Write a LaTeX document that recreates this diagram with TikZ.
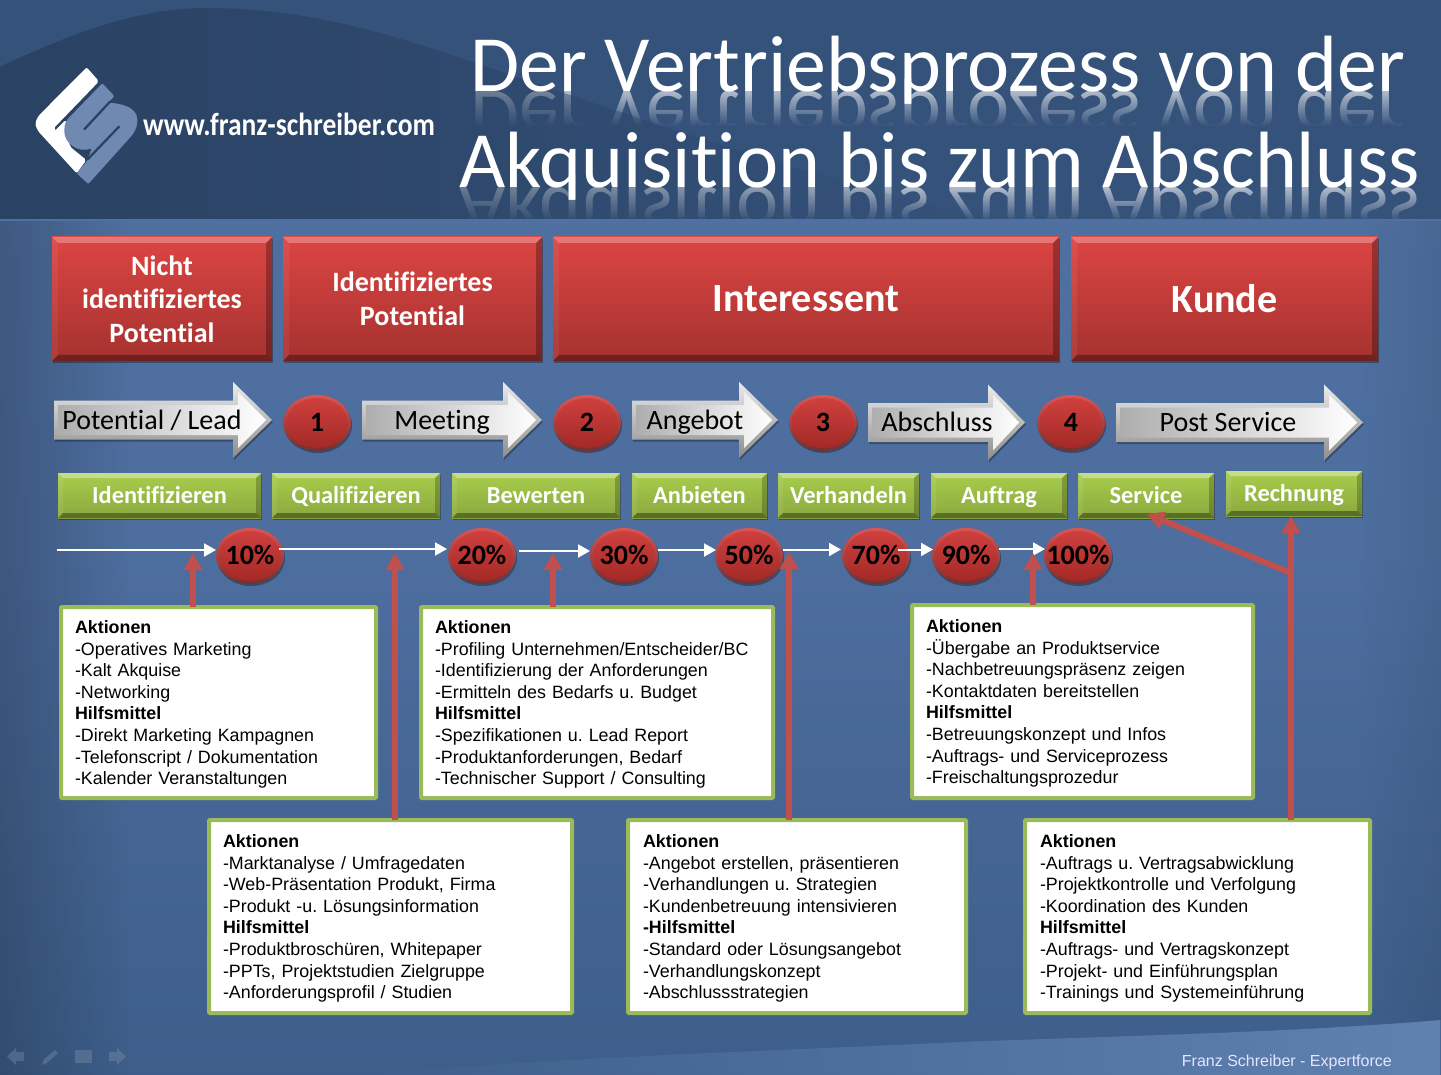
\documentclass[tikz,border=0pt]{standalone}
\usepackage{fontspec}
\setmainfont{Liberation Sans}
\newfontfamily\calib[Ligatures=CommonOff]{Carlito}
\usetikzlibrary{arrows.meta,shapes.geometric,fadings,shadows}
\definecolor{hdrbg}{HTML}{35527B}
\definecolor{hdrdark}{HTML}{2A4263}
\definecolor{brick}{HTML}{C0504D}
\definecolor{olive}{HTML}{9BBB59}
\definecolor{logoblue}{HTML}{7089B1}
\definecolor{lightband}{HTML}{5F82B1}
\definecolor{redtop}{HTML}{DC4543}
\definecolor{redbot}{HTML}{A5322F}
\definecolor{greentop}{HTML}{A8CD4C}
\definecolor{greenbot}{HTML}{8AA83E}
\pgfdeclareverticalshading{pageshade}{100bp}{
  rgb(0bp)=(0.20,0.31,0.46);
  rgb(10bp)=(0.19,0.30,0.44);
  rgb(25bp)=(0.24,0.37,0.54);
  rgb(55bp)=(0.30,0.43,0.62);
  rgb(80bp)=(0.31,0.44,0.63);
  rgb(100bp)=(0.28,0.41,0.59)}
\tikzset{
  x=1pt,y=-1pt,
  bevelled/.style n args={5}{
    path picture={
      \coordinate (pnw) at (path picture bounding box.north west);
      \coordinate (pne) at (path picture bounding box.north east);
      \coordinate (psw) at (path picture bounding box.south west);
      \coordinate (pse) at (path picture bounding box.south east);
      \coordinate (inw) at ([shift={(#1pt,-#1pt)}]pnw);
      \coordinate (ine) at ([shift={(-#1pt,-#1pt)}]pne);
      \coordinate (isw) at ([shift={(#1pt,#1pt)}]psw);
      \coordinate (ise) at ([shift={(-#1pt,#1pt)}]pse);
      \fill[white,opacity=#2] (pnw)--(pne)--(ine)--(inw)--cycle;
      \fill[white,opacity=#3] (pnw)--(psw)--(isw)--(inw)--cycle;
      \fill[black,opacity=#4] (pne)--(pse)--(ise)--(ine)--cycle;
      \fill[black,opacity=#5] (psw)--(pse)--(ise)--(isw)--cycle;
    }},
  softshadow/.style={drop shadow={shadow xshift=1pt,shadow yshift=-2pt,opacity=.3,fill=black}},
  redbox/.style={rectangle,anchor=north west,inner sep=0pt,outer sep=0pt,align=center,text=white,
    top color=redtop,bottom color=redbot,
    softshadow,
    bevelled={6}{.28}{.06}{.28}{.32},
    font=\calib\bfseries},
  greenbox/.style={rectangle,anchor=north west,inner sep=0pt,outer sep=0pt,align=center,text=white,
    minimum height=45pt,top color=greentop,bottom color=greenbot,
    softshadow,text height=18pt,text depth=3pt,
    bevelled={5}{.35}{.08}{.22}{.35},
    font=\calib\bfseries\fontsize{24.4}{25}\selectfont},
  ball/.style={ellipse,inner sep=0pt,outer sep=0pt,minimum width=68pt,minimum height=56pt,
    top color=brick!70!red!85!white,bottom color=brick!60!black,
    softshadow,
    path picture={
      \shade[top color=redtop!95!black,bottom color=redbot!105!white]
        (path picture bounding box.center) ellipse (31 and 25);
    },
    text=black,font=\calib\bfseries\fontsize{28}{30}\selectfont},
  stepball/.style={ball,font=\calib\bfseries\fontsize{28}{29}\selectfont},
  textpanel/.style={rectangle,anchor=north west,fill=white,draw=olive,line width=4pt,rounded corners=1pt,
    inner sep=0pt,outer sep=0pt,inner xsep=14pt,align=left,text=black,
    font=\fontsize{17.85}{21.6}\selectfont\frenchspacing},
  flow/.style={draw=white,line width=2pt,-{Triangle[length=12pt,width=13pt]}},
  feed/.style={draw=brick,line width=6pt,-{Triangle[length=17pt,width=18pt]}},
}
\newcommand\gloss[7]{%
  \path[top color=white!92!black,bottom color=black!45!white,drop shadow={shadow xshift=1pt,shadow yshift=-2pt,opacity=.3,fill=black}]
    (#2,#5-19.5)--(#3,#5-19.5)--(#3,#5-38)--(#4,#5)--(#3,#5+38)--(#3,#5+19.5)--(#2,#5+19.5)--cycle;
  \path[left color=black!32!white,middle color=white,right color=white]
    (#2+4,#5-15)--(#3+5,#5-15)--(#3+5,#5-28)--(#4-6,#5)--(#3+5,#5+28)--(#3+5,#5+15)--(#2+4,#5+15)--cycle;
  \node[anchor=base,inner sep=0pt,text=black,font=\calib\fontsize{28}{29}\selectfont] (#1) at (#7,#5+9) {#6};
}
\newcommand\tA{\rule{0pt}{17pt}\textbf{Aktionen}}
\newcommand\tH{\textbf{Hilfsmittel}}
\newcommand\ct[1]{\raisebox{-.3em}[0pt][0pt]{\makebox[0pt]{#1}}}
\begin{document}
\begin{tikzpicture}
\useasboundingbox (0,0) rectangle (1441,1075);
% header
\fill[hdrbg] (0,0) rectangle (1441,221);
% title reflections
\begin{scope}[shift={(470,92)},yscale=-1]
  \node[transform shape,anchor=base west,inner sep=0pt,text=white,opacity=.6,font=\calib\fontsize{79.8}{80}\selectfont] (mirrorA) at (0,0) {Der Vertriebsprozess von der};
\end{scope}
\fill[hdrbg,path fading=north] (440,92) rectangle (1441,126);
\fill[hdrbg] (440,126) rectangle (1441,157);
\begin{scope}[shift={(459,188)},yscale=-1]
  \node[transform shape,anchor=base west,inner sep=0pt,text=white,opacity=.6,font=\calib\fontsize{79.8}{80}\selectfont] (mirrorB) at (0,0) {Akquisition bis zum Abschluss};
\end{scope}
\fill[hdrbg,path fading=north] (440,188) rectangle (1441,221);
% header wave, over the reflections
\fill[hdrdark,path fading=east] (0,67) .. controls (60,40) and (130,8) .. (207,8) .. controls (300,8) and (380,30) .. (459,57) .. controls (620,110) and (780,170) .. (1000,221) -- (0,221) -- cycle;
% page background
\shade[shading=pageshade] (0,220) rectangle (1441,1075);
\fill[black,opacity=.2,path fading=east] (0,220) rectangle (130,1075);
\fill[black,opacity=.08,path fading=west] (1360,220) rectangle (1441,1075);
\fill[lightband,path fading=west] (350,1075) .. controls (600,1055) and (800,1050) .. (960,1042) .. controls (1150,1035) and (1300,1032) .. (1441,1020) -- (1441,1075) -- cycle;
% title
\node[anchor=base west,inner sep=0pt,text=white,font=\calib\fontsize{79.8}{80}\selectfont] (titleA) at (470,92) {Der Vertriebsprozess von der};
\node[anchor=base west,inner sep=0pt,text=white,font=\calib\fontsize{79.8}{80}\selectfont] (titleB) at (459,188) {Akquisition bis zum Abschluss};
% logo
\begin{scope}[shift={(25,60)},scale=1/3]
  \fill[white,rounded corners=2pt] (185,22)--(222,64)--(86,205)--(90,212)--(122,180)--(135,260)--(184,300)--(155,340)--(38,212)--(30,190)--(40,168)--cycle;
  \fill[logoblue,rounded corners=1pt] (232,70)--(268,108)--(250,128) .. controls (285,130) and (335,140) .. (337,180) .. controls (337,205) and (325,222) .. (312,236) -- (190,372) -- (155,340)--(187,302) -- (200,265) .. controls (160,280) and (118,250) .. (118,212) .. controls (118,190) and (125,180) .. (135,170) --cycle;
  \draw[hdrdark,line width=2.3pt,line cap=round] (178,208)--(256,124);
  \draw[hdrdark,line width=2.3pt,line cap=round] (282,200)--(188,298);
\end{scope}
\begin{scope}[shift={(143,136)},xscale=.86]
  \node[transform shape,anchor=base west,inner sep=0pt,text=white,font=\calib\bfseries\fontsize{32}{32}\selectfont] (url) at (0,0) {www.franz-schreiber.com};
\end{scope}
% red headers
\node[redbox,minimum width=220pt,minimum height=124pt,font=\calib\bfseries\fontsize{28}{33.5}\selectfont] (h1) at (52,237) {Nicht\\identifiziertes\\Potential};
\node[redbox,minimum width=259pt,minimum height=124pt,font=\calib\bfseries\fontsize{28}{33.5}\selectfont] (h2) at (283,237) {Identifiziertes\\Potential};
\node[redbox,minimum width=506pt,minimum height=124pt,font=\calib\bfseries\fontsize{40}{40}\selectfont] (h3) at (553,237) {Interessent};
\node[redbox,minimum width=307pt,minimum height=124pt,font=\calib\bfseries\fontsize{40}{40}\selectfont] (h4) at (1071,237) {Kunde};
% process arrows
\gloss{a1}{54}{233}{272}{420}{Potential / Lead}{152}
\gloss{a2}{362}{503}{542}{420}{Meeting}{442}
\gloss{a3}{632}{739}{778}{420}{Angebot}{695}
\gloss{a4}{868}{988}{1025}{422.5}{Abschluss}{937}
\gloss{a5}{1116}{1324}{1363}{422.5}{Post Service}{1228}
\node[stepball] (s1) at (317,423) {\ct{1}};
\node[stepball] (s2) at (587,423) {\ct{2}};
\node[stepball] (s3) at (823,423) {\ct{3}};
\node[stepball] (s4) at (1071,423) {\ct{4}};
% green steps
\node[greenbox,minimum width=203pt] (g1) at (58,473) {Identifizieren};
\node[greenbox,minimum width=168pt] (g2) at (272,473) {Qualifizieren};
\node[greenbox,minimum width=168pt] (g3) at (452,473) {Bewerten};
\node[greenbox,minimum width=135pt] (g4) at (632,473) {Anbieten};
\node[greenbox,minimum width=141pt] (g5) at (778,473) {Verhandeln};
\node[greenbox,minimum width=136pt] (g6) at (931,473) {Auftrag};
\node[greenbox,minimum width=136pt] (g7) at (1078,473) {Service};
\node[greenbox,minimum width=136pt] (g8) at (1226,471) {Rechnung};
% percentages
\node[ball] (p10) at (250,556) {\ct{10\%}};
\node[ball] (p20) at (482,556) {\ct{20\%}};
\node[ball] (p30) at (624,556) {\ct{30\%}};
\node[ball] (p50) at (749,556) {\ct{50\%}};
\node[ball] (p70) at (876,556) {\ct{70\%}};
\node[ball] (p90) at (966,556) {\ct{90\%}};
\node[ball] (p100) at (1078,556) {\ct{100\%}};
% flow
\coordinate (flowstart) at (57,550);
\draw[flow] (flowstart) -- ([shift={(0pt,6pt)}]p10.west);
\draw[flow] ([shift={(-5pt,7pt)}]p10.east) -- ([shift={(-1pt,7pt)}]p20.west);
\draw[flow] ([shift={(3pt,5pt)}]p20.east) -- ([shift={(0pt,5pt)}]p30.west);
\draw[flow] ([shift={(0pt,6pt)}]p30.east) -- ([shift={(1pt,6pt)}]p50.west);
\draw[flow] ([shift={(0pt,6.5pt)}]p50.east) -- ([shift={(-1pt,6.5pt)}]p70.west);
\draw[flow] ([shift={(-12pt,6.5pt)}]p70.east) -- ([shift={(1pt,6.5pt)}]p90.west);
\draw[flow] ([shift={(-1pt,7pt)}]p90.east) -- ([shift={(1pt,7pt)}]p100.west);
% text panels
\node[textpanel,text width=287pt,minimum height=191pt] (b1) at (61,607) {\tA\\-Operatives Marketing\\-Kalt Akquise\\-Networking\\\tH\\-Direkt Marketing Kampagnen\\-Telefonscript / Dokumentation\\-Kalender Veranstaltungen};
\node[textpanel,text width=335pt,minimum height=193pt] (b2) at (209,820) {\tA\\-Marktanalyse / Umfragedaten\\-Web-Präsentation Produkt, Firma\\-Produkt -u. Lösungsinformation\\\tH\\-Produktbroschüren, Whitepaper\\-PPTs, Projektstudien Zielgruppe\\-Anforderungsprofil / Studien};
\node[textpanel,text width=324pt,minimum height=191pt] (b3) at (421,607) {\tA\\-Profiling Unternehmen/Entscheider/BC\\-Identifizierung der Anforderungen\\-Ermitteln des Bedarfs u. Budget\\\tH\\-Spezifikationen u. Lead Report\\-Produktanforderungen, Bedarf\\-Technischer Support / Consulting};
\node[textpanel,inner xsep=15pt,text width=308pt,minimum height=193pt] (b4) at (628,820) {\tA\\-Angebot erstellen, präsentieren\\-Verhandlungen u. Strategien\\-Kundenbetreuung intensivieren\\\textbf{-Hilfsmittel}\\-Standard oder Lösungsangebot\\-Verhandlungskonzept\\-Abschlussstrategien};
\node[textpanel,text width=313pt,minimum height=193pt] (b5) at (912,605) {\tA\\-Übergabe an Produktservice\\-Nachbetreuungspräsenz zeigen\\-Kontaktdaten bereitstellen\\\tH\\-Betreuungskonzept und Infos\\-Auftrags- und Serviceprozess\\-Freischaltungsprozedur};
\node[textpanel,inner xsep=15pt,text width=315pt,minimum height=193pt] (b6) at (1025,820) {\tA\\-Auftrags u. Vertragsabwicklung\\-Projektkontrolle und Verfolgung\\-Koordination des Kunden\\\tH\\-Auftrags- und Vertragskonzept\\-Projekt- und Einführungsplan\\-Trainings und Systemeinführung};
% feeders
\coordinate (t1) at (193,553);
\coordinate (t2) at (395,553);
\coordinate (t3) at (553,553);
\coordinate (t4) at (789,552);
\coordinate (t5) at (1033,553);
\coordinate (t6) at (1291,516);
\coordinate (jn) at (1291,573);
\coordinate (t7) at (1147,514);
\draw[feed] (b1.north -| t1) -- (t1);
\draw[feed] (b2.north -| t2) -- (t2);
\draw[feed] (b3.north -| t3) -- (t3);
\draw[feed] (b4.north -| t4) -- (t4);
\draw[feed] (b5.north -| t5) -- (t5);
\draw[feed] (b6.north -| t6) -- (t6);
\draw[feed] (jn) -- (t7);
% footer
\node[anchor=base east,inner sep=0pt,text=white!90!blue,font=\fontsize{16}{16}\selectfont] (foot) at (1392,1066) {Franz Schreiber - Expertforce};
% toolbar
\begin{scope}[fill=white!35!hdrbg,opacity=.4]
  \fill (7,1056.5)--(16,1048)--(16,1052)--(24,1052)--(24,1061)--(16,1061)--(16,1065)--cycle;
  \fill (42,1065)--(44,1059)--(55,1050)--(58,1053)--(47,1063)--cycle;
  \fill (75,1050) rectangle (92,1063);
  \fill (126,1056.5)--(117,1048)--(117,1052)--(109,1052)--(109,1061)--(117,1061)--(117,1065)--cycle;
\end{scope}
\end{tikzpicture}
\end{document}
